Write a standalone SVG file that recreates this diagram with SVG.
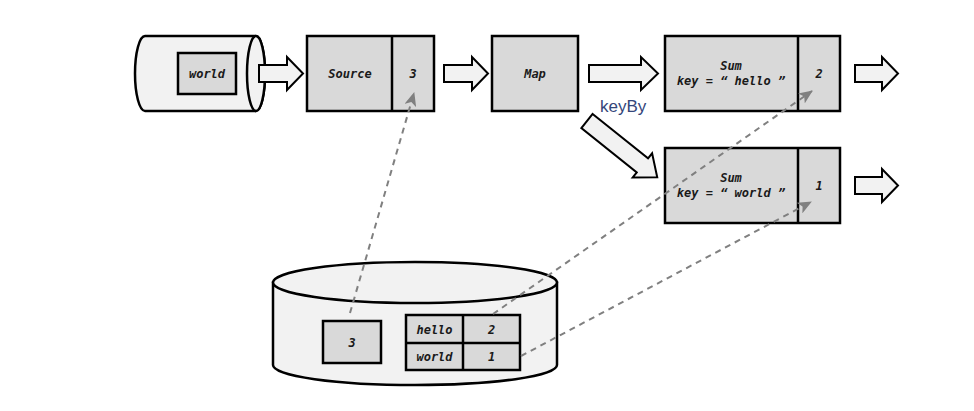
<svg xmlns="http://www.w3.org/2000/svg" width="974" height="411" viewBox="0 0 974 411">
<defs>
<style>
.box{fill:#d9d9d9;stroke:#000;stroke-width:2.5}
.cyl{fill:#f2f2f2;stroke:#000;stroke-width:2.5}
.arr{fill:#f2f2f2;stroke:#000;stroke-width:2;stroke-linejoin:miter}
.t{font-family:"DejaVu Sans Mono","Liberation Mono",monospace;font-size:12px;font-weight:bold;font-style:italic;fill:#1a1a1a;text-anchor:middle}
.dash{fill:none;stroke:#808080;stroke-width:2;stroke-dasharray:6,5}
.lbl{font-family:"Liberation Sans",Arial,sans-serif;font-size:17px;fill:#34467a}
</style>
<marker id="ah" viewBox="0 0 14 12" refX="13" refY="6" markerWidth="14" markerHeight="12" markerUnits="userSpaceOnUse" orient="auto">
<path d="M0,0 L14,6 L0,12 L3.5,6 Z" fill="#808080"/>
</marker>
</defs>
<rect width="974" height="411" fill="#fff"/>

<g id="input-cylinder">
<path class="cyl" d="M145,36 L256,36 A9,37.5 0 0 1 256,111 L145,111 A10,37.5 0 0 1 145,36 Z"/>
<ellipse class="cyl" cx="256" cy="73.5" rx="9" ry="37.5"/>
<rect class="box" x="178" y="53" width="58" height="41"/>
<text class="t" x="207" y="78">world</text>
</g>

<g id="source">
<rect class="box" x="307" y="36" width="127" height="75"/>
<line x1="392" y1="36" x2="392" y2="111" stroke="#000" stroke-width="2.5"/>
<text class="t" x="350" y="78">Source</text>
<text class="t" x="413" y="78">3</text>
</g>

<g id="map">
<rect class="box" x="492" y="36" width="86" height="75"/>
<text class="t" x="535" y="78">Map</text>
</g>

<g id="sum-hello">
<rect class="box" x="665" y="36" width="175" height="75"/>
<line x1="798" y1="36" x2="798" y2="111" stroke="#000" stroke-width="2.5"/>
<text class="t" x="731" y="70">Sum</text>
<text class="t" x="731" y="85">key = “ hello ”</text>
<text class="t" x="819" y="78">2</text>
</g>

<g id="sum-world">
<rect class="box" x="665" y="148" width="175" height="75"/>
<line x1="798" y1="148" x2="798" y2="223" stroke="#000" stroke-width="2.5"/>
<text class="t" x="731" y="182">Sum</text>
<text class="t" x="731" y="197">key = “ world ”</text>
<text class="t" x="819" y="190">1</text>
</g>

<g id="state-store">
<path class="cyl" d="M273,282.5 L273,365 A142,20 0 0 0 557,365 L557,282.5 Z"/>
<ellipse class="cyl" cx="415" cy="282.5" rx="142" ry="20.5"/>
<rect class="box" x="323" y="321" width="58" height="42"/>
<text class="t" x="352" y="347">3</text>
<rect class="box" x="406" y="315" width="114" height="55"/>
<line x1="463" y1="315" x2="463" y2="370" stroke="#000" stroke-width="2.5"/>
<line x1="406" y1="343" x2="520" y2="343" stroke="#000" stroke-width="2.5"/>
<text class="t" x="434.5" y="334">hello</text>
<text class="t" x="491.5" y="334">2</text>
<text class="t" x="434.5" y="361">world</text>
<text class="t" x="491.5" y="361">1</text>
</g>

<g id="connectors">
<polygon class="arr" points="259,65 287,65 287,57 303,73.5 287,90 287,82 259,82"/>
<polygon class="arr" points="444,65 472,65 472,57 488,73.5 472,90 472,82 444,82"/>
<polygon class="arr" points="589,65 641,65 641,57 658,73.5 641,90 641,82 589,82"/>
<polygon class="arr" points="855,65 882,65 882,57 898,73.5 882,90 882,82 855,82"/>
<polygon class="arr" points="855,177 882,177 882,169 898,185.5 882,202 882,194 855,194"/>
<polygon class="arr" transform="translate(587,121) rotate(38.7)" points="0,-9 71,-9 71,-15.5 90,0 71,15.5 71,9 0,9"/>
<text class="lbl" x="600" y="112">keyBy</text>
<line class="dash" x1="350" y1="313" x2="414" y2="93" marker-end="url(#ah)"/>
<line class="dash" x1="493" y1="314" x2="812" y2="91" marker-end="url(#ah)"/>
<line class="dash" x1="521" y1="356" x2="811" y2="202" marker-end="url(#ah)"/>
</g>
</svg>
